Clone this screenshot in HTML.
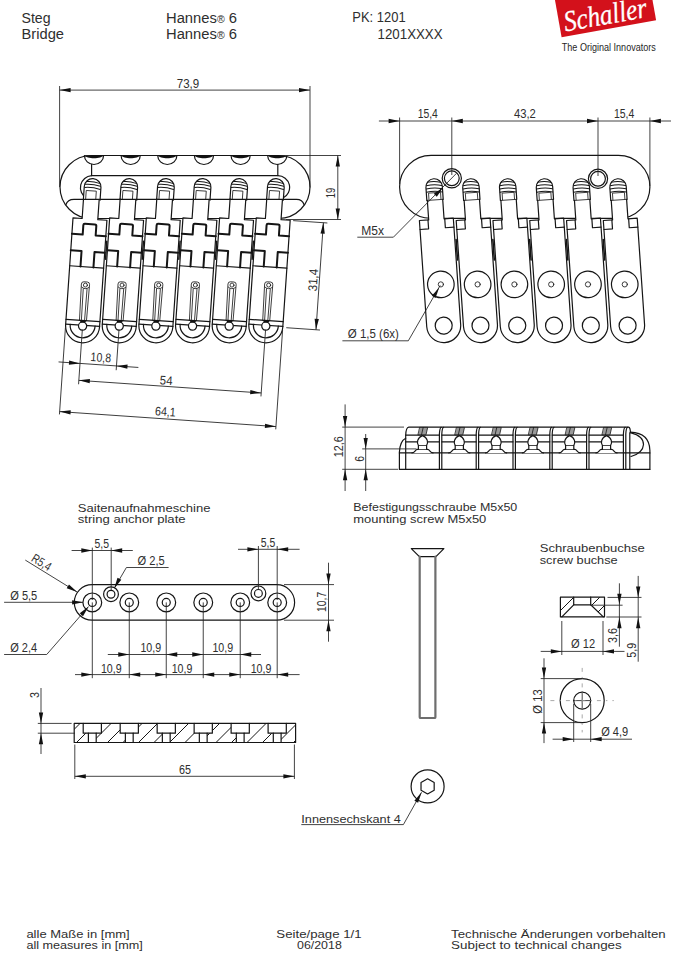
<!DOCTYPE html>
<html><head><meta charset="utf-8"><title>Schaller Hannes Bridge</title>
<style>
html,body{margin:0;padding:0;background:#fff;}
svg{display:block;}
.o{stroke:#151515;stroke-width:1.2;fill:none;stroke-linejoin:round;stroke-linecap:round;}
.w{fill:#fff;}
.nf{fill:none;}
.th{stroke-width:0.8;}
.d{stroke:#222;stroke-width:0.85;fill:none;}
.a{fill:#111;stroke:none;}
.t{font-family:"Liberation Sans",sans-serif;fill:#2e2e2e;}
.t2{font-family:"Liberation Sans",sans-serif;fill:#262626;}
</style></head>
<body><svg width="675" height="956" viewBox="0 0 675 956">
<rect width="675" height="956" fill="#fff"/>
<text class="t" x="21.5" y="22.5" font-size="14" textLength="29" lengthAdjust="spacingAndGlyphs">Steg</text>
<text class="t" x="21.5" y="39.2" font-size="14" textLength="42.5" lengthAdjust="spacingAndGlyphs">Bridge</text>
<text class="t" x="166" y="22.8" font-size="14" textLength="71" lengthAdjust="spacingAndGlyphs">Hannes<tspan font-size="10">&#174;</tspan> 6</text>
<text class="t" x="166" y="38.8" font-size="14" textLength="71" lengthAdjust="spacingAndGlyphs">Hannes<tspan font-size="10">&#174;</tspan> 6</text>
<text class="t" x="352.3" y="22.3" font-size="14" textLength="53.3" lengthAdjust="spacingAndGlyphs">PK: 1201</text>
<text class="t" x="377.6" y="39.2" font-size="14" textLength="65" lengthAdjust="spacingAndGlyphs">1201XXXX</text>
<rect x="0" y="-60" width="96" height="60" fill="#d3111b" transform="translate(561.6 37.2) rotate(-10.1)"/>
<text x="0" y="0" font-size="25" fill="#fff" font-family="Liberation Serif" font-style="italic" stroke="#fff" stroke-width="0.25" transform="translate(565.5 31.5) rotate(-10) scale(1 1.17)" textLength="84" lengthAdjust="spacingAndGlyphs">Schaller</text>
<text class="t2" x="561.8" y="51.4" font-size="10.6" textLength="94" lengthAdjust="spacingAndGlyphs">The Original Innovators</text>
<path class="o w" d="M91.5 155.5 L278.5 155.5 A31.5 31.5 0 0 1 278.5 218.5 L91.5 218.5 A31.5 31.5 0 0 1 91.5 155.5Z"/>
<path class="o" d="M84.4 155.5 A9.6 9 0 0 0 103.6 155.5"/>
<path class="a" d="M84.3 155.3 C86.5 159.3 101.5 159.3 103.7 155.3Z"/>
<path class="o" d="M121.05 155.5 A9.6 9 0 0 0 140.25 155.5"/>
<path class="a" d="M120.95 155.3 C123.15 159.3 138.15 159.3 140.35 155.3Z"/>
<path class="o" d="M157.7 155.5 A9.6 9 0 0 0 176.9 155.5"/>
<path class="a" d="M157.6 155.3 C159.8 159.3 174.8 159.3 177 155.3Z"/>
<path class="o" d="M194.35 155.5 A9.6 9 0 0 0 213.55 155.5"/>
<path class="a" d="M194.25 155.3 C196.45 159.3 211.45 159.3 213.65 155.3Z"/>
<path class="o" d="M231 155.5 A9.6 9 0 0 0 250.2 155.5"/>
<path class="a" d="M230.9 155.3 C233.1 159.3 248.1 159.3 250.3 155.3Z"/>
<path class="o" d="M267.65 155.5 A9.6 9 0 0 0 286.85 155.5"/>
<path class="a" d="M267.55 155.3 C269.75 159.3 284.75 159.3 286.95 155.3Z"/>
<line class="o" x1="91.6" y1="164.4" x2="91.6" y2="175.6"/>
<line class="o" x1="277.8" y1="164.4" x2="277.8" y2="175.6"/>
<path class="o" d="M91.6 175.6 L277.8 175.6 A11.8 11.8 0 0 1 283 198"/>
<path class="o" d="M91.6 175.6 A12 12 0 0 0 86.5 198"/>
<g transform="rotate(3.95 92.6 187)">
<path class="o w" d="M84.25 199.6 L84.25 187 A8.35 8.35 0 0 1 100.95 187 L100.95 199.6"/>
<path class="o" d="M86.1 182 Q92.6 180.9 99.1 182.9" style="stroke-width:1"/>
<path class="o" d="M84.87 184.8 Q92.6 183.7 100.33 185.7" style="stroke-width:1"/>
<path class="o" d="M84.75 188 Q92.6 186.9 100.45 188.9" style="stroke-width:1"/>
<path class="o th" d="M86.5 199.6 L86.5 190.9 L96.6 190.9 L96.6 199.6"/>
</g>
<g transform="rotate(3.95 129.25 187)">
<path class="o w" d="M120.9 199.6 L120.9 187 A8.35 8.35 0 0 1 137.6 187 L137.6 199.6"/>
<path class="o" d="M122.75 182 Q129.25 180.9 135.75 182.9" style="stroke-width:1"/>
<path class="o" d="M121.52 184.8 Q129.25 183.7 136.98 185.7" style="stroke-width:1"/>
<path class="o" d="M121.4 188 Q129.25 186.9 137.1 188.9" style="stroke-width:1"/>
<path class="o th" d="M123.15 199.6 L123.15 190.9 L133.25 190.9 L133.25 199.6"/>
</g>
<g transform="rotate(3.95 165.9 187)">
<path class="o w" d="M157.55 199.6 L157.55 187 A8.35 8.35 0 0 1 174.25 187 L174.25 199.6"/>
<path class="o" d="M159.4 182 Q165.9 180.9 172.4 182.9" style="stroke-width:1"/>
<path class="o" d="M158.17 184.8 Q165.9 183.7 173.63 185.7" style="stroke-width:1"/>
<path class="o" d="M158.05 188 Q165.9 186.9 173.75 188.9" style="stroke-width:1"/>
<path class="o th" d="M159.8 199.6 L159.8 190.9 L169.9 190.9 L169.9 199.6"/>
</g>
<g transform="rotate(3.95 202.55 187)">
<path class="o w" d="M194.2 199.6 L194.2 187 A8.35 8.35 0 0 1 210.9 187 L210.9 199.6"/>
<path class="o" d="M196.05 182 Q202.55 180.9 209.05 182.9" style="stroke-width:1"/>
<path class="o" d="M194.82 184.8 Q202.55 183.7 210.28 185.7" style="stroke-width:1"/>
<path class="o" d="M194.7 188 Q202.55 186.9 210.4 188.9" style="stroke-width:1"/>
<path class="o th" d="M196.45 199.6 L196.45 190.9 L206.55 190.9 L206.55 199.6"/>
</g>
<g transform="rotate(3.95 239.2 187)">
<path class="o w" d="M230.85 199.6 L230.85 187 A8.35 8.35 0 0 1 247.55 187 L247.55 199.6"/>
<path class="o" d="M232.7 182 Q239.2 180.9 245.7 182.9" style="stroke-width:1"/>
<path class="o" d="M231.47 184.8 Q239.2 183.7 246.93 185.7" style="stroke-width:1"/>
<path class="o" d="M231.35 188 Q239.2 186.9 247.05 188.9" style="stroke-width:1"/>
<path class="o th" d="M233.1 199.6 L233.1 190.9 L243.2 190.9 L243.2 199.6"/>
</g>
<g transform="rotate(3.95 275.85 187)">
<path class="o w" d="M267.5 199.6 L267.5 187 A8.35 8.35 0 0 1 284.2 187 L284.2 199.6"/>
<path class="o" d="M269.35 182 Q275.85 180.9 282.35 182.9" style="stroke-width:1"/>
<path class="o" d="M268.12 184.8 Q275.85 183.7 283.58 185.7" style="stroke-width:1"/>
<path class="o" d="M268 188 Q275.85 186.9 283.7 188.9" style="stroke-width:1"/>
<path class="o th" d="M269.75 199.6 L269.75 190.9 L279.85 190.9 L279.85 199.6"/>
</g>
<g transform="rotate(3.95 82.6 325.8) translate(82.6 325.8)">
<path class="o w" d="M-7.85 -126.6 L-7.85 -107 L-17 -107 L-17 0 A17 17 0 0 0 17 0 L17 -107 L7.85 -107 L7.85 -126.6"/>
<path class="o" d="M-17 -91 L-6.2 -91 L-6.2 -100.5 Q-6.2 -102 -4.7 -102 L5.3 -102 Q6.8 -102 6.8 -100.5 L6.8 -91 L17 -91" style="stroke-width:2"/>
<path class="o" d="M-17 -74.5 L-6.2 -74.5 L-6.2 -59" style="stroke-width:2"/>
<path class="o" d="M6.8 -59 L6.8 -74.5 L17 -74.5" style="stroke-width:2"/>
<line class="o" x1="-17" y1="-59" x2="17" y2="-59"/>
<path class="o th" d="M-3.5 -5.3 L-4.1 -41.6 Q-4.1 -44 -1.7 -44 L1.7 -44 Q4.1 -44 4.1 -41.6 L3.5 -5.3"/>
<line class="o" x1="-1.9" y1="-37" x2="-1.6" y2="-5.3" style="stroke-width:0.8"/>
<line class="o" x1="1.9" y1="-37" x2="1.6" y2="-5.3" style="stroke-width:0.8"/>
<path class="o" d="M-3.6 -38.6 Q0 -35.6 3.6 -38.6" style="stroke-width:0.8"/>
<circle class="o th" cx="0" cy="-40.8" r="2"/>
<line class="o" x1="-17" y1="-5.3" x2="17" y2="-5.3"/>
<line class="o" x1="-17" y1="-0.5" x2="17" y2="-0.5"/>
<path class="o" d="M-12.5 -0.5 A12.5 12.5 0 0 0 12.5 -0.5"/>
<circle class="o w" cx="0" cy="0.3" r="4.1"/>
<path class="a" d="M-3.3 -5.3 L3.3 -5.3 L2.2 -3.2 L-2.2 -3.2Z"/>
</g>
<g transform="rotate(3.95 119.25 325.8) translate(119.25 325.8)">
<path class="o w" d="M-7.85 -126.6 L-7.85 -107 L-17 -107 L-17 0 A17 17 0 0 0 17 0 L17 -107 L7.85 -107 L7.85 -126.6"/>
<path class="o" d="M-17 -91 L-6.2 -91 L-6.2 -100.5 Q-6.2 -102 -4.7 -102 L5.3 -102 Q6.8 -102 6.8 -100.5 L6.8 -91 L17 -91" style="stroke-width:2"/>
<path class="o" d="M-17 -74.5 L-6.2 -74.5 L-6.2 -59" style="stroke-width:2"/>
<path class="o" d="M6.8 -59 L6.8 -74.5 L17 -74.5" style="stroke-width:2"/>
<line class="o" x1="-17" y1="-59" x2="17" y2="-59"/>
<path class="o th" d="M-3.5 -5.3 L-4.1 -41.6 Q-4.1 -44 -1.7 -44 L1.7 -44 Q4.1 -44 4.1 -41.6 L3.5 -5.3"/>
<line class="o" x1="-1.9" y1="-37" x2="-1.6" y2="-5.3" style="stroke-width:0.8"/>
<line class="o" x1="1.9" y1="-37" x2="1.6" y2="-5.3" style="stroke-width:0.8"/>
<path class="o" d="M-3.6 -38.6 Q0 -35.6 3.6 -38.6" style="stroke-width:0.8"/>
<circle class="o th" cx="0" cy="-40.8" r="2"/>
<line class="o" x1="-17" y1="-5.3" x2="17" y2="-5.3"/>
<line class="o" x1="-17" y1="-0.5" x2="17" y2="-0.5"/>
<path class="o" d="M-12.5 -0.5 A12.5 12.5 0 0 0 12.5 -0.5"/>
<circle class="o w" cx="0" cy="0.3" r="4.1"/>
<path class="a" d="M-3.3 -5.3 L3.3 -5.3 L2.2 -3.2 L-2.2 -3.2Z"/>
</g>
<g transform="rotate(3.95 155.9 325.8) translate(155.9 325.8)">
<path class="o w" d="M-7.85 -126.6 L-7.85 -107 L-17 -107 L-17 0 A17 17 0 0 0 17 0 L17 -107 L7.85 -107 L7.85 -126.6"/>
<path class="o" d="M-17 -91 L-6.2 -91 L-6.2 -100.5 Q-6.2 -102 -4.7 -102 L5.3 -102 Q6.8 -102 6.8 -100.5 L6.8 -91 L17 -91" style="stroke-width:2"/>
<path class="o" d="M-17 -74.5 L-6.2 -74.5 L-6.2 -59" style="stroke-width:2"/>
<path class="o" d="M6.8 -59 L6.8 -74.5 L17 -74.5" style="stroke-width:2"/>
<line class="o" x1="-17" y1="-59" x2="17" y2="-59"/>
<path class="o th" d="M-3.5 -5.3 L-4.1 -41.6 Q-4.1 -44 -1.7 -44 L1.7 -44 Q4.1 -44 4.1 -41.6 L3.5 -5.3"/>
<line class="o" x1="-1.9" y1="-37" x2="-1.6" y2="-5.3" style="stroke-width:0.8"/>
<line class="o" x1="1.9" y1="-37" x2="1.6" y2="-5.3" style="stroke-width:0.8"/>
<path class="o" d="M-3.6 -38.6 Q0 -35.6 3.6 -38.6" style="stroke-width:0.8"/>
<circle class="o th" cx="0" cy="-40.8" r="2"/>
<line class="o" x1="-17" y1="-5.3" x2="17" y2="-5.3"/>
<line class="o" x1="-17" y1="-0.5" x2="17" y2="-0.5"/>
<path class="o" d="M-12.5 -0.5 A12.5 12.5 0 0 0 12.5 -0.5"/>
<circle class="o w" cx="0" cy="0.3" r="4.1"/>
<path class="a" d="M-3.3 -5.3 L3.3 -5.3 L2.2 -3.2 L-2.2 -3.2Z"/>
</g>
<g transform="rotate(3.95 192.55 325.8) translate(192.55 325.8)">
<path class="o w" d="M-7.85 -126.6 L-7.85 -107 L-17 -107 L-17 0 A17 17 0 0 0 17 0 L17 -107 L7.85 -107 L7.85 -126.6"/>
<path class="o" d="M-17 -91 L-6.2 -91 L-6.2 -100.5 Q-6.2 -102 -4.7 -102 L5.3 -102 Q6.8 -102 6.8 -100.5 L6.8 -91 L17 -91" style="stroke-width:2"/>
<path class="o" d="M-17 -74.5 L-6.2 -74.5 L-6.2 -59" style="stroke-width:2"/>
<path class="o" d="M6.8 -59 L6.8 -74.5 L17 -74.5" style="stroke-width:2"/>
<line class="o" x1="-17" y1="-59" x2="17" y2="-59"/>
<path class="o th" d="M-3.5 -5.3 L-4.1 -41.6 Q-4.1 -44 -1.7 -44 L1.7 -44 Q4.1 -44 4.1 -41.6 L3.5 -5.3"/>
<line class="o" x1="-1.9" y1="-37" x2="-1.6" y2="-5.3" style="stroke-width:0.8"/>
<line class="o" x1="1.9" y1="-37" x2="1.6" y2="-5.3" style="stroke-width:0.8"/>
<path class="o" d="M-3.6 -38.6 Q0 -35.6 3.6 -38.6" style="stroke-width:0.8"/>
<circle class="o th" cx="0" cy="-40.8" r="2"/>
<line class="o" x1="-17" y1="-5.3" x2="17" y2="-5.3"/>
<line class="o" x1="-17" y1="-0.5" x2="17" y2="-0.5"/>
<path class="o" d="M-12.5 -0.5 A12.5 12.5 0 0 0 12.5 -0.5"/>
<circle class="o w" cx="0" cy="0.3" r="4.1"/>
<path class="a" d="M-3.3 -5.3 L3.3 -5.3 L2.2 -3.2 L-2.2 -3.2Z"/>
</g>
<g transform="rotate(3.95 229.2 325.8) translate(229.2 325.8)">
<path class="o w" d="M-7.85 -126.6 L-7.85 -107 L-17 -107 L-17 0 A17 17 0 0 0 17 0 L17 -107 L7.85 -107 L7.85 -126.6"/>
<path class="o" d="M-17 -91 L-6.2 -91 L-6.2 -100.5 Q-6.2 -102 -4.7 -102 L5.3 -102 Q6.8 -102 6.8 -100.5 L6.8 -91 L17 -91" style="stroke-width:2"/>
<path class="o" d="M-17 -74.5 L-6.2 -74.5 L-6.2 -59" style="stroke-width:2"/>
<path class="o" d="M6.8 -59 L6.8 -74.5 L17 -74.5" style="stroke-width:2"/>
<line class="o" x1="-17" y1="-59" x2="17" y2="-59"/>
<path class="o th" d="M-3.5 -5.3 L-4.1 -41.6 Q-4.1 -44 -1.7 -44 L1.7 -44 Q4.1 -44 4.1 -41.6 L3.5 -5.3"/>
<line class="o" x1="-1.9" y1="-37" x2="-1.6" y2="-5.3" style="stroke-width:0.8"/>
<line class="o" x1="1.9" y1="-37" x2="1.6" y2="-5.3" style="stroke-width:0.8"/>
<path class="o" d="M-3.6 -38.6 Q0 -35.6 3.6 -38.6" style="stroke-width:0.8"/>
<circle class="o th" cx="0" cy="-40.8" r="2"/>
<line class="o" x1="-17" y1="-5.3" x2="17" y2="-5.3"/>
<line class="o" x1="-17" y1="-0.5" x2="17" y2="-0.5"/>
<path class="o" d="M-12.5 -0.5 A12.5 12.5 0 0 0 12.5 -0.5"/>
<circle class="o w" cx="0" cy="0.3" r="4.1"/>
<path class="a" d="M-3.3 -5.3 L3.3 -5.3 L2.2 -3.2 L-2.2 -3.2Z"/>
</g>
<g transform="rotate(3.95 265.85 325.8) translate(265.85 325.8)">
<path class="o w" d="M-7.85 -126.6 L-7.85 -107 L-17 -107 L-17 0 A17 17 0 0 0 17 0 L17 -107 L7.85 -107 L7.85 -126.6"/>
<path class="o" d="M-17 -91 L-6.2 -91 L-6.2 -100.5 Q-6.2 -102 -4.7 -102 L5.3 -102 Q6.8 -102 6.8 -100.5 L6.8 -91 L17 -91" style="stroke-width:2"/>
<path class="o" d="M-17 -74.5 L-6.2 -74.5 L-6.2 -59" style="stroke-width:2"/>
<path class="o" d="M6.8 -59 L6.8 -74.5 L17 -74.5" style="stroke-width:2"/>
<line class="o" x1="-17" y1="-59" x2="17" y2="-59"/>
<path class="o th" d="M-3.5 -5.3 L-4.1 -41.6 Q-4.1 -44 -1.7 -44 L1.7 -44 Q4.1 -44 4.1 -41.6 L3.5 -5.3"/>
<line class="o" x1="-1.9" y1="-37" x2="-1.6" y2="-5.3" style="stroke-width:0.8"/>
<line class="o" x1="1.9" y1="-37" x2="1.6" y2="-5.3" style="stroke-width:0.8"/>
<path class="o" d="M-3.6 -38.6 Q0 -35.6 3.6 -38.6" style="stroke-width:0.8"/>
<circle class="o th" cx="0" cy="-40.8" r="2"/>
<line class="o" x1="-17" y1="-5.3" x2="17" y2="-5.3"/>
<line class="o" x1="-17" y1="-0.5" x2="17" y2="-0.5"/>
<path class="o" d="M-12.5 -0.5 A12.5 12.5 0 0 0 12.5 -0.5"/>
<circle class="o w" cx="0" cy="0.3" r="4.1"/>
<path class="a" d="M-3.3 -5.3 L3.3 -5.3 L2.2 -3.2 L-2.2 -3.2Z"/>
</g>
<line class="o" x1="106.78" y1="241.26" x2="105.54" y2="259.22" style="stroke-width:1.5"/>
<line class="o" x1="143.43" y1="241.26" x2="142.19" y2="259.22" style="stroke-width:1.5"/>
<line class="o" x1="180.08" y1="241.26" x2="178.84" y2="259.22" style="stroke-width:1.5"/>
<line class="o" x1="216.73" y1="241.26" x2="215.49" y2="259.22" style="stroke-width:1.5"/>
<line class="o" x1="253.38" y1="241.26" x2="252.14" y2="259.22" style="stroke-width:1.5"/>
<path class="o nf" d="M66 204.5 Q67.5 199.3 74 199.3 L296.5 199.3 Q302.5 199.3 304 204.5"/>
<line class="d" x1="59.6" y1="86" x2="59.6" y2="187"/>
<line class="d" x1="310" y1="86" x2="310" y2="187.5"/>
<line class="d" x1="59.6" y1="90.1" x2="310" y2="90.1"/>
<path class="a" d="M59.6 90.1 L70.6 87.95 L70.6 92.25 Z"/>
<path class="a" d="M310 90.1 L299 92.25 L299 87.95 Z"/>
<text class="t" x="188" y="87.6" font-size="12.5" text-anchor="middle" textLength="22.5" lengthAdjust="spacingAndGlyphs">73,9</text>
<line class="d" x1="287" y1="155.5" x2="341" y2="155.5"/>
<line class="d" x1="286" y1="219.5" x2="341" y2="219.5"/>
<line class="d" x1="337.8" y1="155.5" x2="337.8" y2="219.5"/>
<path class="a" d="M337.8 155.5 L339.95 166.5 L335.65 166.5 Z"/>
<path class="a" d="M337.8 219.5 L335.65 208.5 L339.95 208.5 Z"/>
<text class="t" x="335" y="193.1" font-size="12.5" text-anchor="middle" textLength="10.4" lengthAdjust="spacingAndGlyphs" transform="rotate(-90 335 193.1)">19</text>
<g transform="rotate(3.95 82.6 325.8) translate(82.6 325.8)">
<line class="d" x1="0" y1="4" x2="0" y2="58.6"/>
<line class="d" x1="36.56" y1="1.48" x2="36.56" y2="42"/>
<line class="d" x1="182.81" y1="-8.62" x2="182.81" y2="58.18"/>
<line class="d" x1="-17" y1="3" x2="-17" y2="90"/>
<line class="d" x1="199.81" y1="-9.62" x2="199.81" y2="90"/>
<line class="d" x1="-21.5" y1="37.7" x2="58.5" y2="37.7"/>
<path class="a" d="M0 37.7 L-11 39.85 L-11 35.55 Z"/>
<path class="a" d="M36.56 37.7 L47.56 35.55 L47.56 39.85 Z"/>
<text class="t" x="20.4" y="34.7" font-size="12.5" text-anchor="middle" textLength="20.5" lengthAdjust="spacingAndGlyphs">10,8</text>
<line class="d" x1="0" y1="54.7" x2="182.81" y2="54.7"/>
<path class="a" d="M0 54.7 L11 52.55 L11 56.85 Z"/>
<path class="a" d="M182.81 54.7 L171.81 56.85 L171.81 52.55 Z"/>
<text class="t" x="87.2" y="53" font-size="12.5" text-anchor="middle" textLength="12.7" lengthAdjust="spacingAndGlyphs">54</text>
<line class="d" x1="-17" y1="87.2" x2="199.81" y2="87.2"/>
<path class="a" d="M-17 87.2 L-6 85.05 L-6 89.35 Z"/>
<path class="a" d="M199.81 87.2 L188.81 89.35 L188.81 85.05 Z"/>
<text class="t" x="88.5" y="84.2" font-size="12.5" text-anchor="middle" textLength="20.8" lengthAdjust="spacingAndGlyphs">64,1</text>
</g>
<g transform="rotate(3.95 265.85 325.8) translate(265.85 325.8)">
<line class="d" x1="20" y1="-106.8" x2="54.3" y2="-106.8"/>
<line class="d" x1="20.5" y1="0.5" x2="54.3" y2="0.5"/>
<line class="d" x1="50.3" y1="-106.8" x2="50.3" y2="0.5"/>
<path class="a" d="M50.3 -106.8 L52.45 -95.8 L48.15 -95.8 Z"/>
<path class="a" d="M50.3 0.5 L48.15 -10.5 L52.45 -10.5 Z"/>
<text class="t" x="48.3" y="-49" font-size="12.5" text-anchor="middle" textLength="22.4" lengthAdjust="spacingAndGlyphs" transform="rotate(-90 48.3 -49)">31,4</text>
</g>
<path class="o w" d="M431.1 155.4 L618.4 155.4 A31.5 31.5 0 0 1 618.4 218.4 L431.1 218.4 A31.5 31.5 0 0 1 431.1 155.4Z"/>
<g transform="rotate(-3.95 443.7 325.6) translate(443.7 325.6)">
<path class="o w" d="M-8.2 -126 L-8.2 -139 A8.2 8.2 0 0 1 8.2 -139 L8.2 -126"/>
<path class="o" d="M-6.49 -144 Q0 -145.2 6.49 -143.2" style="stroke-width:1"/>
<path class="o" d="M-7.78 -140.8 Q0 -142 7.78 -140" style="stroke-width:1"/>
<path class="o" d="M-7.9 -137.5 Q0 -138.7 7.9 -136.7" style="stroke-width:1"/>
<path class="o" d="M-7.9 -134.2 Q0 -135.4 7.9 -133.4" style="stroke-width:1"/>
<path class="o th" d="M-6 -126 L-6 -133.2 L6 -133.2 L6 -126"/>
<path class="o w" d="M-7.7 -126 L-7.7 -106.5 L-17 -106.5 L-17 0 A17 17 0 0 0 17 0 L17 -106.5 L7.7 -106.5 L7.7 -126"/>
<line class="o th" x1="-7.7" y1="-126" x2="7.7" y2="-126"/>
<path class="o" d="M-17 -97.5 L-8.4 -97.5 L-8.4 -106.5"/>
<path class="o" d="M17 -97.5 L8.4 -97.5 L8.4 -106.5"/>
<circle class="o" cx="0" cy="-41.3" r="13.3"/>
<circle class="o th" cx="0" cy="-41.3" r="2.6"/>
<circle class="o" cx="0" cy="0" r="8.5"/>
</g>
<g transform="rotate(-3.95 480.48 325.6) translate(480.48 325.6)">
<path class="o w" d="M-8.2 -126 L-8.2 -139 A8.2 8.2 0 0 1 8.2 -139 L8.2 -126"/>
<path class="o" d="M-6.49 -144 Q0 -145.2 6.49 -143.2" style="stroke-width:1"/>
<path class="o" d="M-7.78 -140.8 Q0 -142 7.78 -140" style="stroke-width:1"/>
<path class="o" d="M-7.9 -137.5 Q0 -138.7 7.9 -136.7" style="stroke-width:1"/>
<path class="o" d="M-7.9 -134.2 Q0 -135.4 7.9 -133.4" style="stroke-width:1"/>
<path class="o th" d="M-6 -126 L-6 -133.2 L6 -133.2 L6 -126"/>
<path class="o w" d="M-7.7 -126 L-7.7 -106.5 L-17 -106.5 L-17 0 A17 17 0 0 0 17 0 L17 -106.5 L7.7 -106.5 L7.7 -126"/>
<line class="o th" x1="-7.7" y1="-126" x2="7.7" y2="-126"/>
<path class="o" d="M-17 -97.5 L-8.4 -97.5 L-8.4 -106.5"/>
<path class="o" d="M17 -97.5 L8.4 -97.5 L8.4 -106.5"/>
<circle class="o" cx="0" cy="-41.3" r="13.3"/>
<circle class="o th" cx="0" cy="-41.3" r="2.6"/>
<circle class="o" cx="0" cy="0" r="8.5"/>
</g>
<g transform="rotate(-3.95 517.26 325.6) translate(517.26 325.6)">
<path class="o w" d="M-8.2 -126 L-8.2 -139 A8.2 8.2 0 0 1 8.2 -139 L8.2 -126"/>
<path class="o" d="M-6.49 -144 Q0 -145.2 6.49 -143.2" style="stroke-width:1"/>
<path class="o" d="M-7.78 -140.8 Q0 -142 7.78 -140" style="stroke-width:1"/>
<path class="o" d="M-7.9 -137.5 Q0 -138.7 7.9 -136.7" style="stroke-width:1"/>
<path class="o" d="M-7.9 -134.2 Q0 -135.4 7.9 -133.4" style="stroke-width:1"/>
<path class="o th" d="M-6 -126 L-6 -133.2 L6 -133.2 L6 -126"/>
<path class="o w" d="M-7.7 -126 L-7.7 -106.5 L-17 -106.5 L-17 0 A17 17 0 0 0 17 0 L17 -106.5 L7.7 -106.5 L7.7 -126"/>
<line class="o th" x1="-7.7" y1="-126" x2="7.7" y2="-126"/>
<path class="o" d="M-17 -97.5 L-8.4 -97.5 L-8.4 -106.5"/>
<path class="o" d="M17 -97.5 L8.4 -97.5 L8.4 -106.5"/>
<circle class="o" cx="0" cy="-41.3" r="13.3"/>
<circle class="o th" cx="0" cy="-41.3" r="2.6"/>
<circle class="o" cx="0" cy="0" r="8.5"/>
</g>
<g transform="rotate(-3.95 554.04 325.6) translate(554.04 325.6)">
<path class="o w" d="M-8.2 -126 L-8.2 -139 A8.2 8.2 0 0 1 8.2 -139 L8.2 -126"/>
<path class="o" d="M-6.49 -144 Q0 -145.2 6.49 -143.2" style="stroke-width:1"/>
<path class="o" d="M-7.78 -140.8 Q0 -142 7.78 -140" style="stroke-width:1"/>
<path class="o" d="M-7.9 -137.5 Q0 -138.7 7.9 -136.7" style="stroke-width:1"/>
<path class="o" d="M-7.9 -134.2 Q0 -135.4 7.9 -133.4" style="stroke-width:1"/>
<path class="o th" d="M-6 -126 L-6 -133.2 L6 -133.2 L6 -126"/>
<path class="o w" d="M-7.7 -126 L-7.7 -106.5 L-17 -106.5 L-17 0 A17 17 0 0 0 17 0 L17 -106.5 L7.7 -106.5 L7.7 -126"/>
<line class="o th" x1="-7.7" y1="-126" x2="7.7" y2="-126"/>
<path class="o" d="M-17 -97.5 L-8.4 -97.5 L-8.4 -106.5"/>
<path class="o" d="M17 -97.5 L8.4 -97.5 L8.4 -106.5"/>
<circle class="o" cx="0" cy="-41.3" r="13.3"/>
<circle class="o th" cx="0" cy="-41.3" r="2.6"/>
<circle class="o" cx="0" cy="0" r="8.5"/>
</g>
<g transform="rotate(-3.95 590.82 325.6) translate(590.82 325.6)">
<path class="o w" d="M-8.2 -126 L-8.2 -139 A8.2 8.2 0 0 1 8.2 -139 L8.2 -126"/>
<path class="o" d="M-6.49 -144 Q0 -145.2 6.49 -143.2" style="stroke-width:1"/>
<path class="o" d="M-7.78 -140.8 Q0 -142 7.78 -140" style="stroke-width:1"/>
<path class="o" d="M-7.9 -137.5 Q0 -138.7 7.9 -136.7" style="stroke-width:1"/>
<path class="o" d="M-7.9 -134.2 Q0 -135.4 7.9 -133.4" style="stroke-width:1"/>
<path class="o th" d="M-6 -126 L-6 -133.2 L6 -133.2 L6 -126"/>
<path class="o w" d="M-7.7 -126 L-7.7 -106.5 L-17 -106.5 L-17 0 A17 17 0 0 0 17 0 L17 -106.5 L7.7 -106.5 L7.7 -126"/>
<line class="o th" x1="-7.7" y1="-126" x2="7.7" y2="-126"/>
<path class="o" d="M-17 -97.5 L-8.4 -97.5 L-8.4 -106.5"/>
<path class="o" d="M17 -97.5 L8.4 -97.5 L8.4 -106.5"/>
<circle class="o" cx="0" cy="-41.3" r="13.3"/>
<circle class="o th" cx="0" cy="-41.3" r="2.6"/>
<circle class="o" cx="0" cy="0" r="8.5"/>
</g>
<g transform="rotate(-3.95 627.6 325.6) translate(627.6 325.6)">
<path class="o w" d="M-8.2 -126 L-8.2 -139 A8.2 8.2 0 0 1 8.2 -139 L8.2 -126"/>
<path class="o" d="M-6.49 -144 Q0 -145.2 6.49 -143.2" style="stroke-width:1"/>
<path class="o" d="M-7.78 -140.8 Q0 -142 7.78 -140" style="stroke-width:1"/>
<path class="o" d="M-7.9 -137.5 Q0 -138.7 7.9 -136.7" style="stroke-width:1"/>
<path class="o" d="M-7.9 -134.2 Q0 -135.4 7.9 -133.4" style="stroke-width:1"/>
<path class="o th" d="M-6 -126 L-6 -133.2 L6 -133.2 L6 -126"/>
<path class="o w" d="M-7.7 -126 L-7.7 -106.5 L-17 -106.5 L-17 0 A17 17 0 0 0 17 0 L17 -106.5 L7.7 -106.5 L7.7 -126"/>
<line class="o th" x1="-7.7" y1="-126" x2="7.7" y2="-126"/>
<path class="o" d="M-17 -97.5 L-8.4 -97.5 L-8.4 -106.5"/>
<path class="o" d="M17 -97.5 L8.4 -97.5 L8.4 -106.5"/>
<circle class="o" cx="0" cy="-41.3" r="13.3"/>
<circle class="o th" cx="0" cy="-41.3" r="2.6"/>
<circle class="o" cx="0" cy="0" r="8.5"/>
</g>
<line class="o" x1="456.1" y1="239.54" x2="457.51" y2="259.99" style="stroke-width:1.6"/>
<line class="o" x1="492.88" y1="239.54" x2="494.29" y2="259.99" style="stroke-width:1.6"/>
<line class="o" x1="529.66" y1="239.54" x2="531.07" y2="259.99" style="stroke-width:1.6"/>
<line class="o" x1="566.44" y1="239.54" x2="567.85" y2="259.99" style="stroke-width:1.6"/>
<line class="o" x1="603.22" y1="239.54" x2="604.63" y2="259.99" style="stroke-width:1.6"/>
<circle class="o w" cx="451.8" cy="178.3" r="9.6"/>
<circle class="o" cx="451.8" cy="178.3" r="7.4"/>
<circle class="o w" cx="598" cy="178.8" r="9.6"/>
<circle class="o" cx="598" cy="178.8" r="7.4"/>
<line class="d" x1="378.9" y1="121" x2="671" y2="121"/>
<line class="d" x1="399.6" y1="117.5" x2="399.6" y2="184"/>
<line class="d" x1="451.8" y1="117.5" x2="451.8" y2="175"/>
<line class="d" x1="598" y1="117.5" x2="598" y2="176"/>
<line class="d" x1="649.9" y1="117.5" x2="649.9" y2="186"/>
<path class="a" d="M399.6 121 L388.6 123.15 L388.6 118.85 Z"/>
<path class="a" d="M451.8 121 L462.8 118.85 L462.8 123.15 Z"/>
<path class="a" d="M598 121 L587 123.15 L587 118.85 Z"/>
<path class="a" d="M649.9 121 L660.9 118.85 L660.9 123.15 Z"/>
<text class="t" x="427.8" y="118.3" font-size="12.5" text-anchor="middle" textLength="20.2" lengthAdjust="spacingAndGlyphs">15,4</text>
<text class="t" x="524.9" y="118.3" font-size="12.5" text-anchor="middle" textLength="21.9" lengthAdjust="spacingAndGlyphs">43,2</text>
<text class="t" x="624.1" y="118.3" font-size="12.5" text-anchor="middle" textLength="20.4" lengthAdjust="spacingAndGlyphs">15,4</text>
<path class="d" d="M357.3 237.2 L393.4 237.2 L456.5 173.3"/>
<path class="a" d="M443.1 187.5 L436.84 196.8 L433.8 193.76 Z"/>
<text class="t" x="361.2" y="234.5" font-size="12.5" textLength="22.8" lengthAdjust="spacingAndGlyphs">M5x</text>
<path class="d" d="M342.4 340.8 L408.3 340.8 L440.2 285.4"/>
<path class="a" d="M439.2 287.4 L435.55 298 L431.83 295.84 Z"/>
<text class="t" x="347.8" y="338.1" font-size="12.5" textLength="51.1" lengthAdjust="spacingAndGlyphs">&#216; 1,5 (6x)</text>
<path class="o" d="M399.4 469.3 L399.4 452 Q400 441 405.7 438.2"/>
<path class="o" d="M405.7 469.3 L405.7 435.6 Q405.9 427.3 408.8 427.1 L628.6 427.1 Q630.4 427.5 630.4 432.8"/>
<line class="o" x1="399.4" y1="469.3" x2="649.9" y2="469.3"/>
<line class="o" x1="629.8" y1="432.8" x2="629.8" y2="469.3"/>
<path class="o" d="M630.4 432.2 Q649.5 433 649.9 450.5 L649.9 469.3"/>
<path class="o" d="M631 432.8 Q643.5 436 643.5 444.5 Q643 453 631 456.5"/>
<line class="o" x1="399.4" y1="452.9" x2="649.9" y2="452.9"/>
<path class="o" d="M439.4 469.3 L439.4 434 Q439.7 428 441.2 427.3"/>
<path class="o" d="M441.8 469.3 L441.8 434 Q442.1 428 443.6 427.3"/>
<line class="o" x1="405.7" y1="435.1" x2="439.4" y2="435.1"/>
<line class="o" x1="405.7" y1="441.8" x2="439.4" y2="441.8"/>
<path class="o w" d="M412 452.9 C415 452.9 415 449.4 417.5 449.4 L427.5 449.4 C430 449.4 430 452.9 433 452.9"/>
<path class="o w" d="M418.4 449.2 L418.4 445.5 C416.6 443.5 417.1 437.3 422.5 435.6 C427.9 437.3 428.4 443.5 426.6 445.5 L426.6 449.2"/>
<line class="o th" x1="418.4" y1="445.5" x2="426.6" y2="445.5"/>
<path class="o" d="M420 427.4 L427.7 427.4 L426 434.8 L418.3 434.8Z" style="fill:#999;stroke-width:0.8"/>
<line class="o th" x1="423.2" y1="427.4" x2="421.5" y2="434.8"/>
<path class="o" d="M476.2 469.3 L476.2 434 Q476.5 428 478 427.3"/>
<path class="o" d="M478.6 469.3 L478.6 434 Q478.9 428 480.4 427.3"/>
<line class="o" x1="441.9" y1="435.1" x2="476.2" y2="435.1"/>
<line class="o" x1="441.9" y1="441.8" x2="476.2" y2="441.8"/>
<path class="o w" d="M448.8 452.9 C451.8 452.9 451.8 449.4 454.3 449.4 L464.3 449.4 C466.8 449.4 466.8 452.9 469.8 452.9"/>
<path class="o w" d="M455.2 449.2 L455.2 445.5 C453.4 443.5 453.9 437.3 459.3 435.6 C464.7 437.3 465.2 443.5 463.4 445.5 L463.4 449.2"/>
<line class="o th" x1="455.2" y1="445.5" x2="463.4" y2="445.5"/>
<path class="o" d="M456.8 427.4 L464.5 427.4 L462.8 434.8 L455.1 434.8Z" style="fill:#999;stroke-width:0.8"/>
<line class="o th" x1="460" y1="427.4" x2="458.3" y2="434.8"/>
<path class="o" d="M513 469.3 L513 434 Q513.3 428 514.8 427.3"/>
<path class="o" d="M515.4 469.3 L515.4 434 Q515.7 428 517.2 427.3"/>
<line class="o" x1="478.7" y1="435.1" x2="513" y2="435.1"/>
<line class="o" x1="478.7" y1="441.8" x2="513" y2="441.8"/>
<path class="o w" d="M485.6 452.9 C488.6 452.9 488.6 449.4 491.1 449.4 L501.1 449.4 C503.6 449.4 503.6 452.9 506.6 452.9"/>
<path class="o w" d="M492 449.2 L492 445.5 C490.2 443.5 490.7 437.3 496.1 435.6 C501.5 437.3 502 443.5 500.2 445.5 L500.2 449.2"/>
<line class="o th" x1="492" y1="445.5" x2="500.2" y2="445.5"/>
<path class="o" d="M493.6 427.4 L501.3 427.4 L499.6 434.8 L491.9 434.8Z" style="fill:#999;stroke-width:0.8"/>
<line class="o th" x1="496.8" y1="427.4" x2="495.1" y2="434.8"/>
<path class="o" d="M549.8 469.3 L549.8 434 Q550.1 428 551.6 427.3"/>
<path class="o" d="M552.2 469.3 L552.2 434 Q552.5 428 554 427.3"/>
<line class="o" x1="515.5" y1="435.1" x2="549.8" y2="435.1"/>
<line class="o" x1="515.5" y1="441.8" x2="549.8" y2="441.8"/>
<path class="o w" d="M522.4 452.9 C525.4 452.9 525.4 449.4 527.9 449.4 L537.9 449.4 C540.4 449.4 540.4 452.9 543.4 452.9"/>
<path class="o w" d="M528.8 449.2 L528.8 445.5 C527 443.5 527.5 437.3 532.9 435.6 C538.3 437.3 538.8 443.5 537 445.5 L537 449.2"/>
<line class="o th" x1="528.8" y1="445.5" x2="537" y2="445.5"/>
<path class="o" d="M530.4 427.4 L538.1 427.4 L536.4 434.8 L528.7 434.8Z" style="fill:#999;stroke-width:0.8"/>
<line class="o th" x1="533.6" y1="427.4" x2="531.9" y2="434.8"/>
<path class="o" d="M586.6 469.3 L586.6 434 Q586.9 428 588.4 427.3"/>
<path class="o" d="M589 469.3 L589 434 Q589.3 428 590.8 427.3"/>
<line class="o" x1="552.3" y1="435.1" x2="586.6" y2="435.1"/>
<line class="o" x1="552.3" y1="441.8" x2="586.6" y2="441.8"/>
<path class="o w" d="M559.2 452.9 C562.2 452.9 562.2 449.4 564.7 449.4 L574.7 449.4 C577.2 449.4 577.2 452.9 580.2 452.9"/>
<path class="o w" d="M565.6 449.2 L565.6 445.5 C563.8 443.5 564.3 437.3 569.7 435.6 C575.1 437.3 575.6 443.5 573.8 445.5 L573.8 449.2"/>
<line class="o th" x1="565.6" y1="445.5" x2="573.8" y2="445.5"/>
<path class="o" d="M567.2 427.4 L574.9 427.4 L573.2 434.8 L565.5 434.8Z" style="fill:#999;stroke-width:0.8"/>
<line class="o th" x1="570.4" y1="427.4" x2="568.7" y2="434.8"/>
<path class="o" d="M623.4 469.3 L623.4 434 Q623.7 428 625.2 427.3"/>
<path class="o" d="M625.8 469.3 L625.8 434 Q626.1 428 627.6 427.3"/>
<line class="o" x1="589.1" y1="435.1" x2="623.4" y2="435.1"/>
<line class="o" x1="589.1" y1="441.8" x2="623.4" y2="441.8"/>
<path class="o w" d="M596 452.9 C599 452.9 599 449.4 601.5 449.4 L611.5 449.4 C614 449.4 614 452.9 617 452.9"/>
<path class="o w" d="M602.4 449.2 L602.4 445.5 C600.6 443.5 601.1 437.3 606.5 435.6 C611.9 437.3 612.4 443.5 610.6 445.5 L610.6 449.2"/>
<line class="o th" x1="602.4" y1="445.5" x2="610.6" y2="445.5"/>
<path class="o" d="M604 427.4 L611.7 427.4 L610 434.8 L602.3 434.8Z" style="fill:#999;stroke-width:0.8"/>
<line class="o th" x1="607.2" y1="427.4" x2="605.5" y2="434.8"/>
<line class="d" x1="342.2" y1="427.1" x2="404" y2="427.1"/>
<line class="d" x1="342.2" y1="469.3" x2="398" y2="469.3"/>
<line class="d" x1="362.2" y1="448.9" x2="416.5" y2="448.9"/>
<line class="d" x1="345.1" y1="404.4" x2="345.1" y2="491"/>
<path class="a" d="M345.1 427.1 L342.95 416.1 L347.25 416.1 Z"/>
<path class="a" d="M345.1 469.3 L347.25 480.3 L342.95 480.3 Z"/>
<line class="d" x1="365.7" y1="434" x2="365.7" y2="491"/>
<path class="a" d="M365.7 448.9 L363.55 437.9 L367.85 437.9 Z"/>
<path class="a" d="M365.7 469.3 L367.85 480.3 L363.55 480.3 Z"/>
<text class="t" x="343.5" y="446.8" font-size="12.5" text-anchor="middle" textLength="21" lengthAdjust="spacingAndGlyphs" transform="rotate(-90 343.5 446.8)">12,6</text>
<text class="t" x="363.6" y="458.8" font-size="12.5" text-anchor="middle" textLength="5.8" lengthAdjust="spacingAndGlyphs" transform="rotate(-90 363.6 458.8)">6</text>
<text class="t" x="77.8" y="511.7" font-size="11.6" textLength="132.6" lengthAdjust="spacingAndGlyphs">Saitenaufnahmeschine</text>
<text class="t" x="77.8" y="523.4" font-size="11.6" textLength="107.8" lengthAdjust="spacingAndGlyphs">string anchor plate</text>
<path class="o w" d="M92.1 584.6 L276.8 584.6 A17.8 17.8 0 0 1 276.8 620.2 L92.1 620.2 A17.8 17.8 0 0 1 92.1 584.6Z"/>
<circle class="o" cx="92.3" cy="602.4" r="9.4"/>
<circle class="o" cx="92.3" cy="602.4" r="4"/>
<circle class="o" cx="129.28" cy="602.4" r="9.4"/>
<circle class="o" cx="129.28" cy="602.4" r="4"/>
<circle class="o" cx="166.26" cy="602.4" r="9.4"/>
<circle class="o" cx="166.26" cy="602.4" r="4"/>
<circle class="o" cx="203.24" cy="602.4" r="9.4"/>
<circle class="o" cx="203.24" cy="602.4" r="4"/>
<circle class="o" cx="240.22" cy="602.4" r="9.4"/>
<circle class="o" cx="240.22" cy="602.4" r="4"/>
<circle class="o" cx="277.2" cy="602.4" r="9.4"/>
<circle class="o" cx="277.2" cy="602.4" r="4"/>
<circle class="o" cx="111" cy="594.2" r="7.4"/>
<circle class="o" cx="111" cy="594.2" r="3.9"/>
<circle class="o" cx="258.4" cy="593.4" r="7.4"/>
<circle class="o" cx="258.4" cy="593.4" r="3.9"/>
<line class="d" x1="92.3" y1="602.4" x2="92.3" y2="678.2"/>
<line class="d" x1="129.28" y1="602.4" x2="129.28" y2="678.2"/>
<line class="d" x1="166.26" y1="602.4" x2="166.26" y2="678.2"/>
<line class="d" x1="203.24" y1="602.4" x2="203.24" y2="678.2"/>
<line class="d" x1="240.22" y1="602.4" x2="240.22" y2="678.2"/>
<line class="d" x1="277.2" y1="602.4" x2="277.2" y2="678.2"/>
<line class="d" x1="92.3" y1="547.6" x2="92.3" y2="600"/>
<line class="d" x1="111.2" y1="547.6" x2="111.2" y2="590"/>
<line class="d" x1="258.4" y1="546" x2="258.4" y2="590"/>
<line class="d" x1="277.2" y1="546" x2="277.2" y2="600"/>
<line class="d" x1="71.6" y1="550.5" x2="132.8" y2="550.5"/>
<path class="a" d="M92.3 550.5 L81.3 552.65 L81.3 548.35 Z"/>
<path class="a" d="M111.2 550.5 L122.2 548.35 L122.2 552.65 Z"/>
<text class="t" x="101.7" y="547.6" font-size="12.5" text-anchor="middle" textLength="14.5" lengthAdjust="spacingAndGlyphs">5,5</text>
<line class="d" x1="238" y1="549.3" x2="299.6" y2="549.3"/>
<path class="a" d="M258.4 549.3 L247.4 551.45 L247.4 547.15 Z"/>
<path class="a" d="M277.2 549.3 L288.2 547.15 L288.2 551.45 Z"/>
<text class="t" x="268" y="547.3" font-size="12.5" text-anchor="middle" textLength="14.5" lengthAdjust="spacingAndGlyphs">5,5</text>
<path class="d" d="M114.6 587.7 L126.4 567.5 L168.6 567.5"/>
<path class="a" d="M114.2 588.4 L117.51 577.69 L121.3 579.73 Z"/>
<text class="t" x="137.5" y="564.7" font-size="12.5" textLength="27.2" lengthAdjust="spacingAndGlyphs">&#216; 2,5</text>
<line class="d" x1="25.3" y1="560.1" x2="77.2" y2="592.1"/>
<path class="a" d="M77.2 592.1 L66.71 588.16 L68.97 584.5 Z"/>
<text class="t" x="30.4" y="560.4" font-size="12.5" textLength="21" lengthAdjust="spacingAndGlyphs" transform="rotate(31.8 30.4 560.4)">R5,4</text>
<line class="d" x1="4.1" y1="602.3" x2="83.1" y2="602.3"/>
<path class="a" d="M83.1 602.3 L72.1 604.45 L72.1 600.15 Z"/>
<text class="t" x="10.2" y="599.9" font-size="12.5" textLength="27.1" lengthAdjust="spacingAndGlyphs">&#216; 5,5</text>
<path class="d" d="M4.1 654.5 L46.7 654.5 L88.5 606.6"/>
<path class="a" d="M88.6 606.5 L82.99 616.2 L79.75 613.37 Z"/>
<text class="t" x="10.2" y="651.7" font-size="12.5" textLength="27" lengthAdjust="spacingAndGlyphs">&#216; 2,4</text>
<line class="d" x1="284" y1="584.6" x2="334" y2="584.6"/>
<line class="d" x1="284" y1="620.2" x2="334" y2="620.2"/>
<line class="d" x1="328.5" y1="562.7" x2="328.5" y2="641.7"/>
<path class="a" d="M328.5 584.6 L326.35 573.6 L330.65 573.6 Z"/>
<path class="a" d="M328.5 620.2 L330.65 631.2 L326.35 631.2 Z"/>
<text class="t" x="326.5" y="601.9" font-size="12.5" text-anchor="middle" textLength="20.2" lengthAdjust="spacingAndGlyphs" transform="rotate(-90 326.5 601.9)">10,7</text>
<line class="d" x1="107.8" y1="654.5" x2="261" y2="654.5"/>
<path class="a" d="M129.28 654.5 L118.28 656.65 L118.28 652.35 Z"/>
<path class="a" d="M166.26 654.5 L177.26 652.35 L177.26 656.65 Z"/>
<path class="a" d="M203.24 654.5 L192.24 656.65 L192.24 652.35 Z"/>
<path class="a" d="M240.22 654.5 L251.22 652.35 L251.22 656.65 Z"/>
<text class="t" x="150.8" y="651.8" font-size="12.5" text-anchor="middle" textLength="20.7" lengthAdjust="spacingAndGlyphs">10,9</text>
<text class="t" x="222.8" y="651.8" font-size="12.5" text-anchor="middle" textLength="20.7" lengthAdjust="spacingAndGlyphs">10,9</text>
<line class="d" x1="75" y1="674.6" x2="299.6" y2="674.6"/>
<path class="a" d="M92.3 674.6 L81.3 676.75 L81.3 672.45 Z"/>
<path class="a" d="M129.28 674.6 L140.28 672.45 L140.28 676.75 Z"/>
<path class="a" d="M166.26 674.6 L155.26 676.75 L155.26 672.45 Z"/>
<path class="a" d="M203.24 674.6 L214.24 672.45 L214.24 676.75 Z"/>
<path class="a" d="M240.22 674.6 L229.22 676.75 L229.22 672.45 Z"/>
<path class="a" d="M277.2 674.6 L288.2 672.45 L288.2 676.75 Z"/>
<text class="t" x="111.3" y="672.5" font-size="12.5" text-anchor="middle" textLength="20.7" lengthAdjust="spacingAndGlyphs">10,9</text>
<text class="t" x="182" y="672.5" font-size="12.5" text-anchor="middle" textLength="20.7" lengthAdjust="spacingAndGlyphs">10,9</text>
<text class="t" x="261" y="672.5" font-size="12.5" text-anchor="middle" textLength="20.7" lengthAdjust="spacingAndGlyphs">10,9</text>
<defs><clipPath id="pc2"><path d="M74.2 723.3 L295.6 723.3 L295.6 742.5 L74.2 742.5ZM83.2 723.3 L83.2 733.2 L88.4 733.2 L88.4 742.5 L96.2 742.5 L96.2 733.2 L101.4 733.2 L101.4 723.3ZM120.18 723.3 L120.18 733.2 L125.38 733.2 L125.38 742.5 L133.18 742.5 L133.18 733.2 L138.38 733.2 L138.38 723.3ZM157.16 723.3 L157.16 733.2 L162.36 733.2 L162.36 742.5 L170.16 742.5 L170.16 733.2 L175.36 733.2 L175.36 723.3ZM194.14 723.3 L194.14 733.2 L199.34 733.2 L199.34 742.5 L207.14 742.5 L207.14 733.2 L212.34 733.2 L212.34 723.3ZM231.12 723.3 L231.12 733.2 L236.32 733.2 L236.32 742.5 L244.12 742.5 L244.12 733.2 L249.32 733.2 L249.32 723.3ZM268.1 723.3 L268.1 733.2 L273.3 733.2 L273.3 742.5 L281.1 742.5 L281.1 733.2 L286.3 733.2 L286.3 723.3Z" clip-rule="evenodd"/></clipPath></defs>
<g clip-path="url(#pc2)"><path class="o" style="stroke-width:1" d="M61 742.5 L80.2 723.3 M76.5 742.5 L95.7 723.3 M92 742.5 L111.2 723.3 M107.5 742.5 L126.7 723.3 M123 742.5 L142.2 723.3 M138.5 742.5 L157.7 723.3 M154 742.5 L173.2 723.3 M169.5 742.5 L188.7 723.3 M185 742.5 L204.2 723.3 M200.5 742.5 L219.7 723.3 M216 742.5 L235.2 723.3 M231.5 742.5 L250.7 723.3 M247 742.5 L266.2 723.3 M262.5 742.5 L281.7 723.3 M278 742.5 L297.2 723.3 M293.5 742.5 L312.7 723.3 M309 742.5 L328.2 723.3"/></g>
<path class="o" d="M74.2 723.3 L295.6 723.3 L295.6 742.5 L74.2 742.5Z"/>
<path class="o" d="M83.2 723.3 L83.2 733.2 L101.4 733.2 L101.4 723.3"/>
<line class="o" x1="88.4" y1="733.2" x2="88.4" y2="742.5"/>
<line class="o" x1="96.2" y1="733.2" x2="96.2" y2="742.5"/>
<path class="o" d="M120.18 723.3 L120.18 733.2 L138.38 733.2 L138.38 723.3"/>
<line class="o" x1="125.38" y1="733.2" x2="125.38" y2="742.5"/>
<line class="o" x1="133.18" y1="733.2" x2="133.18" y2="742.5"/>
<path class="o" d="M157.16 723.3 L157.16 733.2 L175.36 733.2 L175.36 723.3"/>
<line class="o" x1="162.36" y1="733.2" x2="162.36" y2="742.5"/>
<line class="o" x1="170.16" y1="733.2" x2="170.16" y2="742.5"/>
<path class="o" d="M194.14 723.3 L194.14 733.2 L212.34 733.2 L212.34 723.3"/>
<line class="o" x1="199.34" y1="733.2" x2="199.34" y2="742.5"/>
<line class="o" x1="207.14" y1="733.2" x2="207.14" y2="742.5"/>
<path class="o" d="M231.12 723.3 L231.12 733.2 L249.32 733.2 L249.32 723.3"/>
<line class="o" x1="236.32" y1="733.2" x2="236.32" y2="742.5"/>
<line class="o" x1="244.12" y1="733.2" x2="244.12" y2="742.5"/>
<path class="o" d="M268.1 723.3 L268.1 733.2 L286.3 733.2 L286.3 723.3"/>
<line class="o" x1="273.3" y1="733.2" x2="273.3" y2="742.5"/>
<line class="o" x1="281.1" y1="733.2" x2="281.1" y2="742.5"/>
<line class="d" x1="37.8" y1="723.4" x2="71.6" y2="723.4"/>
<line class="d" x1="37.8" y1="733.2" x2="75" y2="733.2"/>
<line class="d" x1="41" y1="688" x2="41" y2="754"/>
<path class="a" d="M41 723.4 L38.85 712.4 L43.15 712.4 Z"/>
<path class="a" d="M41 733.2 L43.15 744.2 L38.85 744.2 Z"/>
<text class="t" x="38.8" y="695" font-size="12.5" text-anchor="middle" textLength="6" lengthAdjust="spacingAndGlyphs" transform="rotate(-90 38.8 695)">3</text>
<line class="d" x1="74.8" y1="744.5" x2="74.8" y2="779"/>
<line class="d" x1="294.4" y1="744.5" x2="294.4" y2="779"/>
<line class="d" x1="74.8" y1="776.3" x2="294.4" y2="776.3"/>
<path class="a" d="M74.8 776.3 L85.8 774.15 L85.8 778.45 Z"/>
<path class="a" d="M294.4 776.3 L283.4 778.45 L283.4 774.15 Z"/>
<text class="t" x="184.9" y="773.8" font-size="12.5" text-anchor="middle" textLength="12" lengthAdjust="spacingAndGlyphs">65</text>
<text class="t" x="353.3" y="511" font-size="11.6" textLength="164" lengthAdjust="spacingAndGlyphs">Befestigungsschraube M5x50</text>
<text class="t" x="353.3" y="523" font-size="11.6" textLength="133" lengthAdjust="spacingAndGlyphs">mounting screw M5x50</text>
<path class="o" d="M411.3 548.6 L443.9 548.6 L435.9 556.6 L419.4 556.6Z"/>
<path class="o" d="M419.7 556.6 L419.7 717.2 Q419.7 718 420.5 718 L434.6 718 Q435.4 718 435.4 717.2 L435.4 556.6" style="stroke:#6e6e6e;stroke-width:2.2"/>
<circle class="o" cx="427.6" cy="786.4" r="16.5"/>
<path class="o" d="M427.6 778.8 L434.18 782.6 L434.18 790.2 L427.6 794 L421.02 790.2 L421.02 782.6Z"/>
<path class="d" d="M301.3 824.6 L403.4 824.6 L421.5 792.3"/>
<path class="a" d="M421.6 792.2 L418.1 802.85 L414.35 800.75 Z"/>
<text class="t" x="301.3" y="822.8" font-size="11.6" textLength="99.5" lengthAdjust="spacingAndGlyphs">Innensechskant 4</text>
<text class="t" x="539.7" y="552.1" font-size="11.6" textLength="105.2" lengthAdjust="spacingAndGlyphs">Schraubenbuchse</text>
<text class="t" x="539.7" y="563.7" font-size="11.6" textLength="78" lengthAdjust="spacingAndGlyphs">screw buchse</text>
<defs><clipPath id="bc"><path d="M560.4 597.2 L573.7 597.2 L573.7 604.8 L561.9 616.9 L560.4 616.9Z M590.7 597.2 L604.5 597.2 L604.5 616.9 L603.3 616.9 L590.7 604.8Z"/></clipPath></defs>
<g clip-path="url(#bc)"><path class="o" style="stroke-width:1" d="M528 617 L548 597 M541 617 L561 597 M554 617 L574 597 M567 617 L587 597 M580 617 L600 597 M593 617 L613 597 M606 617 L626 597 M619 617 L639 597 M632 617 L652 597"/></g>
<path class="o" d="M560.4 597.2 L604.5 597.2 L604.5 616.9 L560.4 616.9Z"/>
<path class="o" d="M573.7 597.2 L573.7 604.8 L590.7 604.8 L590.7 597.2"/>
<line class="o" x1="573.7" y1="604.8" x2="561.9" y2="616.9"/>
<line class="o" x1="590.7" y1="604.8" x2="603.3" y2="616.9"/>
<line class="d" x1="607.5" y1="597.4" x2="641.5" y2="597.4"/>
<line class="d" x1="590.7" y1="605.2" x2="622.6" y2="605.2"/>
<line class="d" x1="606.3" y1="617" x2="641.5" y2="617"/>
<line class="d" x1="619.4" y1="583.3" x2="619.4" y2="646.7"/>
<path class="a" d="M619.4 604.8 L617.25 593.8 L621.55 593.8 Z"/>
<path class="a" d="M619.4 617.2 L621.55 628.2 L617.25 628.2 Z"/>
<line class="d" x1="638.2" y1="575.9" x2="638.2" y2="661.7"/>
<path class="a" d="M638.2 597.4 L636.05 586.4 L640.35 586.4 Z"/>
<path class="a" d="M638.2 617.2 L640.35 628.2 L636.05 628.2 Z"/>
<text class="t" x="617" y="635.5" font-size="12.5" text-anchor="middle" textLength="15" lengthAdjust="spacingAndGlyphs" transform="rotate(-90 617 635.5)">3,6</text>
<text class="t" x="636.3" y="650.3" font-size="12.5" text-anchor="middle" textLength="14.7" lengthAdjust="spacingAndGlyphs" transform="rotate(-90 636.3 650.3)">5,9</text>
<line class="d" x1="561.8" y1="621" x2="561.8" y2="655"/>
<line class="d" x1="603" y1="621" x2="603" y2="655"/>
<line class="d" x1="540.7" y1="651.4" x2="624.5" y2="651.4"/>
<path class="a" d="M561.8 651.4 L550.8 653.55 L550.8 649.25 Z"/>
<path class="a" d="M603 651.4 L614 649.25 L614 653.55 Z"/>
<text class="t" x="583.1" y="647.9" font-size="12.5" text-anchor="middle" textLength="24.1" lengthAdjust="spacingAndGlyphs">&#216; 12</text>
<circle class="o" cx="582.2" cy="700.6" r="22"/>
<circle class="o" cx="582.2" cy="700.6" r="8.5"/>
<line class="o th" x1="573.7" y1="700.6" x2="590.7" y2="700.6"/>
<line class="o th" x1="582.2" y1="692.1" x2="582.2" y2="709.1"/>
<line class="d" x1="550.4" y1="700.6" x2="613.8" y2="700.6" style="stroke-dasharray:4 5 1.5 5;stroke:#999"/>
<line class="d" x1="582.2" y1="667.9" x2="582.2" y2="732.4" style="stroke-dasharray:4 5 1.5 5;stroke:#999"/>
<line class="d" x1="540.7" y1="678.6" x2="582" y2="678.6"/>
<line class="d" x1="540.7" y1="722.6" x2="582" y2="722.6"/>
<line class="d" x1="544" y1="658.3" x2="544" y2="743.1"/>
<path class="a" d="M544 678.6 L541.85 667.6 L546.15 667.6 Z"/>
<path class="a" d="M544 722.6 L546.15 733.6 L541.85 733.6 Z"/>
<text class="t" x="541.8" y="701.5" font-size="12.5" text-anchor="middle" textLength="24.3" lengthAdjust="spacingAndGlyphs" transform="rotate(-90 541.8 701.5)">&#216; 13</text>
<line class="d" x1="573.7" y1="704" x2="573.7" y2="742"/>
<line class="d" x1="590.7" y1="704" x2="590.7" y2="742"/>
<line class="d" x1="552.6" y1="739.2" x2="632" y2="739.2"/>
<path class="a" d="M573.7 739.2 L562.7 741.35 L562.7 737.05 Z"/>
<path class="a" d="M590.7 739.2 L601.7 737.05 L601.7 741.35 Z"/>
<text class="t" x="601.2" y="736.3" font-size="12.5" textLength="27" lengthAdjust="spacingAndGlyphs">&#216; 4,9</text>
<text class="t" x="26.4" y="937.9" font-size="11.6" textLength="103.3" lengthAdjust="spacingAndGlyphs">alle Ma&#223;e in [mm]</text>
<text class="t" x="26.4" y="948.7" font-size="11.6" textLength="116.4" lengthAdjust="spacingAndGlyphs">all measures in [mm]</text>
<text class="t" x="319" y="937.8" font-size="11.6" text-anchor="middle" textLength="85.3" lengthAdjust="spacingAndGlyphs">Seite/page 1/1</text>
<text class="t" x="319.4" y="949.3" font-size="11.6" text-anchor="middle" textLength="44.8" lengthAdjust="spacingAndGlyphs">06/2018</text>
<text class="t" x="451.1" y="938.1" font-size="11.6" textLength="214.5" lengthAdjust="spacingAndGlyphs">Technische &#196;nderungen vorbehalten</text>
<text class="t" x="451.1" y="948.6" font-size="11.6" textLength="170.7" lengthAdjust="spacingAndGlyphs">Subject to technical changes</text>
</svg></body></html>
